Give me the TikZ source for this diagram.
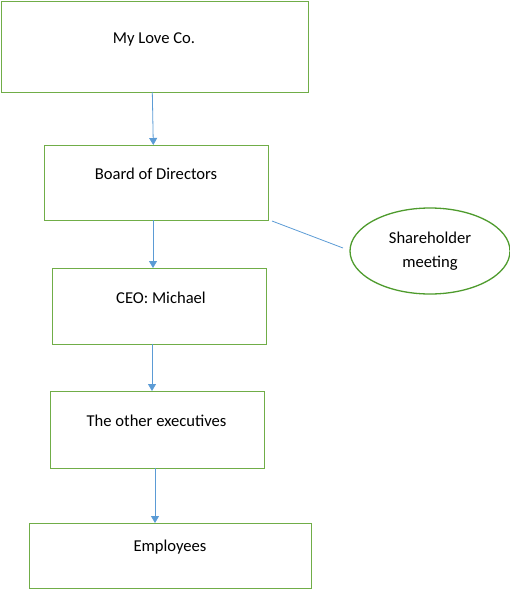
\documentclass[tikz,border=0pt]{standalone}
\usepackage{fontspec}
\setmainfont{Carlito}
\usetikzlibrary{arrows.meta,shapes.geometric}
\definecolor{boxgreen}{RGB}{112,173,71}
\definecolor{ellgreen}{RGB}{78,155,45}
\definecolor{arrblue}{RGB}{91,155,213}
\begin{document}
\begin{tikzpicture}[x=1pt,y=-1pt,
  box/.style={draw=boxgreen,line width=1.3pt,rectangle,inner sep=0pt,anchor=north west},
  lbl/.style={font=\fontsize{16.6}{24}\selectfont,inner sep=0pt,align=center},
  arr/.style={draw=arrblue,line width=0.8pt,-{Triangle[length=7pt,width=8pt]}},
  conn/.style={draw=arrblue,line width=0.8pt}]
\useasboundingbox (0,0) rectangle (510,589);
% boxes
\node[box,minimum width=307pt,minimum height=91pt] (b1) at (1,1) {};
\node[box,minimum width=224pt,minimum height=75pt] (b2) at (44,145) {};
\node[box,minimum width=214pt,minimum height=76pt] (b3) at (52,268) {};
\node[box,minimum width=214pt,minimum height=77pt] (b4) at (50,391) {};
\node[box,minimum width=282pt,minimum height=65pt] (b5) at (29,523) {};
\node[draw=ellgreen,line width=1.3pt,ellipse,minimum width=160pt,minimum height=86pt,inner sep=0pt] (e) at (430,251) {};
% labels
\node[lbl] (t1) at (154,39) {My Love Co.};
\node[lbl] (t2) at (156,174) {Board of Directors};
\node[lbl] (t3) at (161,298) {CEO: Michael};
\node[lbl] (t4) at (156.5,421) {The other executives};
\node[lbl] (t5) at (170,547) {Employees};
\node[lbl] (te) at (430,251) {Shareholder\\meeting};
% arrow endpoints
\coordinate (a1s) at (152.3,92);  \coordinate (a1e) at (153.3,145);
\coordinate (a2s) at (153,220);   \coordinate (a2e) at (153,268);
\coordinate (a3s) at (152,344);   \coordinate (a3e) at (152,391);
\coordinate (a4s) at (155,468);   \coordinate (a4e) at (155,523);
\coordinate (ls) at (272,221);    \coordinate (le) at (343,248);
\draw[arr] (a1s) -- (a1e);
\draw[arr] (a2s) -- (a2e);
\draw[arr] (a3s) -- (a3e);
\draw[arr] (a4s) -- (a4e);
\draw[conn] (ls) -- (le);
\end{tikzpicture}
\end{document}
